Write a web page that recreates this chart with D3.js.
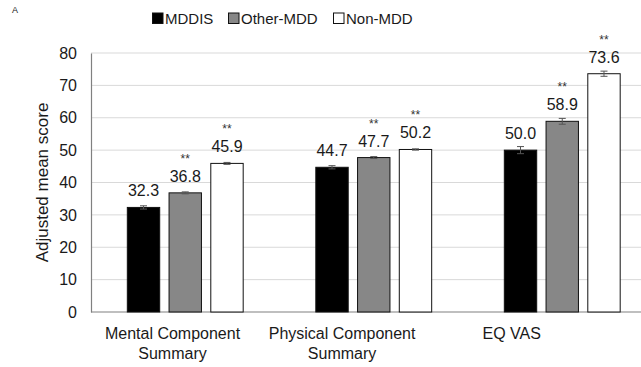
<!DOCTYPE html>
<html>
<head>
<meta charset="utf-8">
<script src="https://cdn.jsdelivr.net/npm/d3@7"></script>
<style>
  html, body { margin: 0; padding: 0; background: #fff; }
  svg { display: block; font-family: "Liberation Sans", Arial, sans-serif; }
</style>
</head>
<body>
<svg id="chart" width="641" height="367"></svg>
<script>
// Adjusted mean scores by group
const categories = ["Mental Component Summary", "Physical Component Summary", "EQ VAS"];
const categoryLines = [["Mental Component", "Summary"], ["Physical Component", "Summary"], ["EQ VAS"]];
const seriesNames = ["MDDIS", "Other-MDD", "Non-MDD"];
const mddis = [32.3, 44.7, 50.0];
const otherMdd = [36.8, 47.7, 58.9];
const nonMdd = [45.9, 50.2, 73.6];
const mddisErr = [0.5, 0.5, 1.1];
const otherMddErr = [0.3, 0.3, 0.9];
const nonMddErr = [0.3, 0.2, 0.8];
const significant = [[false, true, true], [false, true, true], [false, true, true]];
const yTicks = [0, 10, 20, 30, 40, 50, 60, 70, 80];
const fills = ["#000000", "#878787", "#ffffff"];

const values = [mddis, otherMdd, nonMdd];
const errors = [mddisErr, otherMddErr, nonMddErr];
const rows = categories.map((c, i) => ({
  cat: c,
  bars: seriesNames.map((s, j) => ({ s, j, v: values[j][i], e: errors[j][i], sig: significant[i][j] }))
}));

const svg = d3.select("#chart");
const plotLeft = 91, plotRight = 656.5, plotTop = 53, plotBottom = 312;

const y = d3.scaleLinear().domain([0, 80]).range([plotBottom, plotTop]);
const x0 = d3.scaleBand().domain(categories).range([plotLeft, plotRight]).paddingInner(0.38).paddingOuter(0.19);
const x1 = d3.scaleBand().domain(seriesNames).range([0, x0.bandwidth()]).paddingInner(0.2).paddingOuter(0);
// category labels sit on their own band layout
const xLab = d3.scaleBand().domain(categories).range([87.7, 596.5]);

const textColor = "#1a1a1a";

// panel letter
svg.append("text").attr("x", 12).attr("y", 13).attr("font-size", 9).attr("fill", textColor).text("A");

// gridlines
svg.append("g").selectAll("line").data(yTicks.filter(t => t > 0)).join("line")
  .attr("x1", plotLeft).attr("x2", 641)
  .attr("y1", d => y(d)).attr("y2", d => y(d))
  .attr("stroke", "#d9d9d9").attr("stroke-width", 1);

// y axis
const yAxis = svg.append("g").attr("transform", `translate(${plotLeft},0)`)
  .call(d3.axisLeft(y).tickValues(yTicks).tickSize(0).tickPadding(14));
yAxis.select(".domain").attr("stroke", "#808080").attr("stroke-width", 1.2);
yAxis.selectAll("text").attr("font-size", 16).attr("fill", textColor)
  .attr("font-family", "Liberation Sans, Arial, sans-serif");

// baseline
svg.append("line").attr("x1", plotLeft).attr("x2", 641).attr("y1", y(0)).attr("y2", y(0))
  .attr("stroke", "#808080").attr("stroke-width", 1.2);

// y title
svg.append("text")
  .attr("transform", `translate(48,${(plotTop + plotBottom) / 2}) rotate(-90)`)
  .attr("text-anchor", "middle").attr("font-size", 17).attr("fill", textColor)
  .text("Adjusted mean score");

// bars
const groups = svg.append("g").selectAll("g").data(rows).join("g")
  .attr("transform", d => `translate(${x0(d.cat)},0)`);

groups.selectAll("rect").data(d => d.bars).join("rect")
  .attr("x", d => x1(d.s) + 0.5)
  .attr("y", d => y(d.v))
  .attr("width", x1.bandwidth() - 1)
  .attr("height", d => y(0) - y(d.v))
  .attr("fill", d => fills[d.j])
  .attr("stroke", "#111").attr("stroke-width", 1);

// error bars
const eb = groups.selectAll("g.err").data(d => d.bars).join("g").attr("class", "err")
  .attr("stroke", "#555").attr("stroke-width", 1);
eb.append("line")
  .attr("x1", d => x1(d.s) + x1.bandwidth() / 2).attr("x2", d => x1(d.s) + x1.bandwidth() / 2)
  .attr("y1", d => y(d.v + d.e)).attr("y2", d => y(d.v - d.e));
[1, -1].forEach(sign => {
  eb.append("line")
    .attr("x1", d => x1(d.s) + x1.bandwidth() / 2 - 3.5).attr("x2", d => x1(d.s) + x1.bandwidth() / 2 + 3.5)
    .attr("y1", d => y(d.v + sign * d.e)).attr("y2", d => y(d.v + sign * d.e));
});

// value labels
groups.selectAll("text.val").data(d => d.bars).join("text").attr("class", "val")
  .attr("x", d => x1(d.s) + x1.bandwidth() / 2)
  .attr("y", d => y(d.v) - 11)
  .attr("text-anchor", "middle").attr("font-size", 16).attr("fill", textColor)
  .text(d => d.v.toFixed(1));

// significance markers
groups.selectAll("text.sig").data(d => d.bars.filter(b => b.sig)).join("text").attr("class", "sig")
  .attr("x", d => x1(d.s) + x1.bandwidth() / 2)
  .attr("y", d => y(d.v) - 30)
  .attr("text-anchor", "middle").attr("font-size", 12).attr("fill", "#333")
  .text("**");

// category labels
svg.append("g").selectAll("text").data(categories).join("text")
  .attr("x", d => xLab(d) + xLab.bandwidth() / 2)
  .attr("y", 339)
  .attr("text-anchor", "middle").attr("font-size", 16).attr("fill", textColor)
  .each(function (d, i) {
    d3.select(this).selectAll("tspan").data(categoryLines[i]).join("tspan")
      .attr("x", xLab(d) + xLab.bandwidth() / 2)
      .attr("dy", (l, k) => k === 0 ? 0 : 20)
      .text(l => l);
  });

// legend
const legendX = [152, 228, 333];
const legend = svg.append("g").selectAll("g").data(seriesNames).join("g")
  .attr("transform", (d, i) => `translate(${legendX[i]},12.5)`);
legend.append("rect").attr("x", 0.5).attr("y", 0.5).attr("width", 10.5).attr("height", 10.5)
  .attr("fill", (d, i) => fills[i]).attr("stroke", "#111").attr("stroke-width", 1);
legend.append("text").attr("x", 13).attr("y", 11.5).attr("font-size", 15).attr("fill", textColor)
  .text(d => d);
</script>
</body>
</html>
